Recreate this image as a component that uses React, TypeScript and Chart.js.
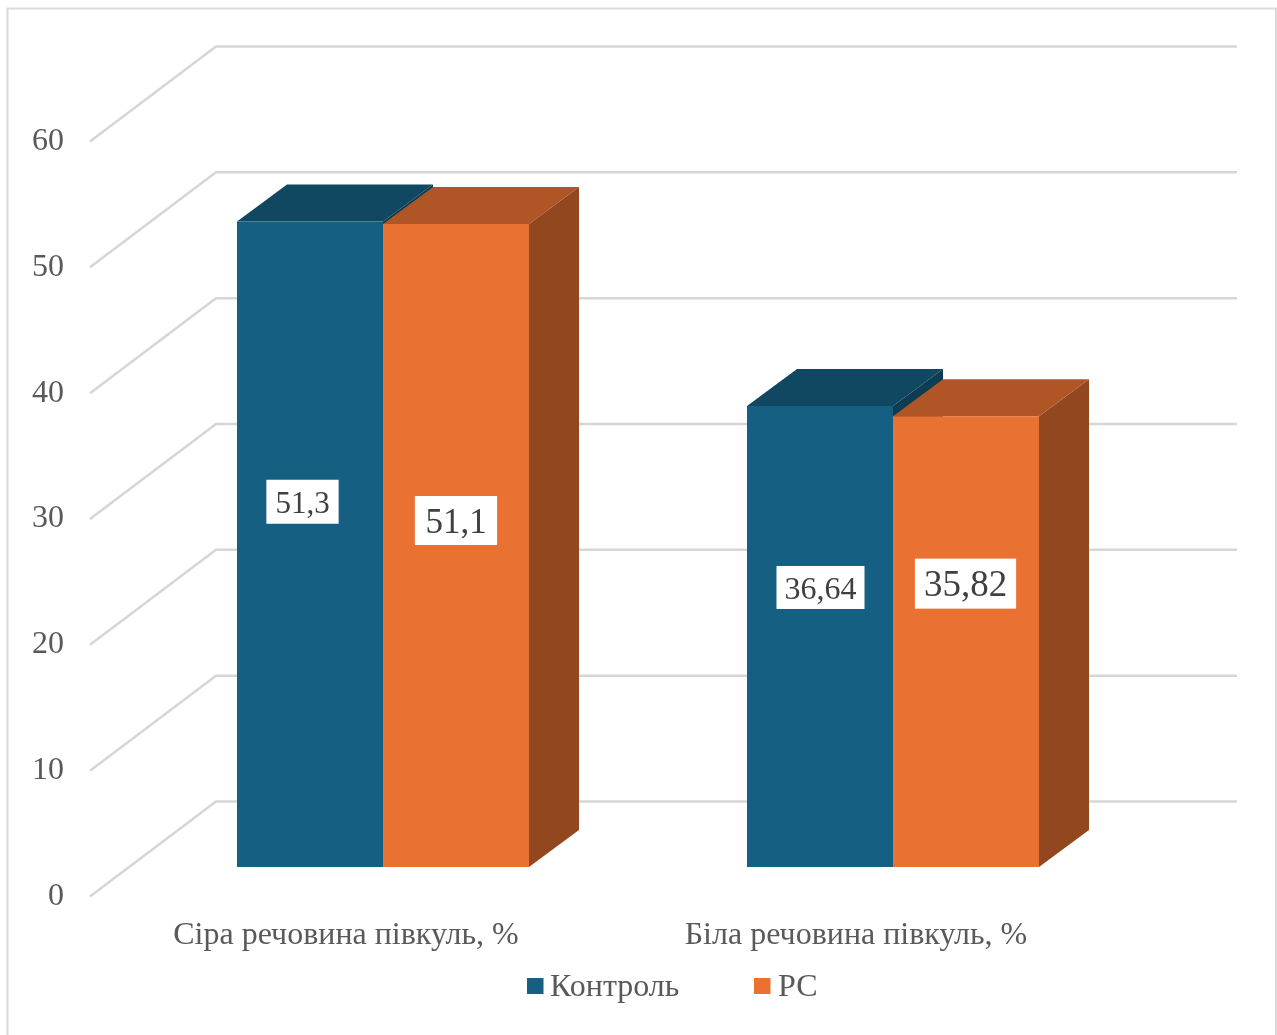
import React, { useEffect, useRef } from "react";
import { Chart, registerables } from "chart.js";

Chart.register(...registerables);

const categories = ["Сіра речовина півкуль, %", "Біла речовина півкуль, %"];
const controlLabel = "Контроль";
const rsLabel = "РС";
const controlValues = [51.3, 36.64];
const rsValues = [51.1, 35.82];

const FONT = '"Liberation Serif", "Times New Roman", serif';
const TEXT = "#595959";
const GRID = "#d6d6d6";

// Pseudo-3D geometry: the tick labels sit on the front plane, the bars in the
// middle of the floor, the gridlines on the back wall.
const BAR_SHIFT = { x: 37, y: -29.5 };
const BAR_DEPTH = { x: 50, y: -37 };
const WALL_SHIFT = { x: 125, y: -95 };

const faceColors = [
  { top: "#104862", side: "#0d3d52" },
  { top: "#af5526", side: "#93471f" },
];

// Label box placement relative to the middle of the bar's front face.
const labelStyles = [
  [
    { size: 31, dx: -7.5, dy: -42.5, padX: 9, boxH: 44 },
    { size: 35, dx: 0, dy: -25, padX: 10.5, boxH: 49 },
  ],
  [
    { size: 32, dx: 0.5, dy: -49, padX: 8, boxH: 43 },
    { size: 37, dx: -0.5, dy: -58, padX: 9, boxH: 50 },
  ],
];

const poly = (ctx: CanvasRenderingContext2D, pts: number[][], fill: string) => {
  ctx.beginPath();
  pts.forEach(([x, y], i) => (i ? ctx.lineTo(x, y) : ctx.moveTo(x, y)));
  ctx.closePath();
  ctx.fillStyle = fill;
  ctx.fill();
};

const pseudo3d = {
  id: "pseudo3d",
  beforeDraw(chart: any) {
    const { ctx, width, height, chartArea, scales } = chart;
    ctx.save();
    ctx.fillStyle = "#ffffff";
    ctx.fillRect(0, 0, width, height);
    ctx.strokeStyle = "#d9d9d9";
    ctx.lineWidth = 2;
    ctx.strokeRect(7.5, 8.5, 1268.5, 1040);

    // Side wall and back wall lines for every tick of the value axis.
    ctx.strokeStyle = GRID;
    ctx.lineWidth = 2.5;
    ctx.lineJoin = "round";
    for (const tick of scales.y.ticks) {
      const y = scales.y.getPixelForValue(tick.value);
      ctx.beginPath();
      ctx.moveTo(chartArea.left - 1, y);
      ctx.lineTo(chartArea.left + WALL_SHIFT.x, y + WALL_SHIFT.y);
      ctx.lineTo(chartArea.right + WALL_SHIFT.x + 1, y + WALL_SHIFT.y);
      ctx.stroke();
    }
    ctx.restore();
  },
  // Moves all bars onto their plane and paints the top and side faces first,
  // so the front faces drawn by the library end up above them.
  beforeDatasetsDraw(chart: any) {
    const { ctx } = chart;
    ctx.save();
    ctx.translate(BAR_SHIFT.x, BAR_SHIFT.y);
    chart.data.datasets.forEach((_: any, di: number) => {
      const colors = faceColors[di];
      chart.getDatasetMeta(di).data.forEach((bar: any) => {
        const half = bar.width / 2;
        const l = bar.x - half;
        const r = bar.x + half;
        const t = bar.y;
        const b = bar.base;
        const { x: dx, y: dy } = BAR_DEPTH;
        poly(ctx, [[r, t], [r + dx, t + dy], [r + dx, b + dy], [r, b]], colors.side);
        poly(ctx, [[l, t], [r, t], [r + dx, t + dy], [l + dx, t + dy]], colors.top);
      });
    });
  },
  afterDatasetsDraw(chart: any) {
    chart.ctx.restore();
  },
  afterDraw(chart: any) {
    const { ctx } = chart;
    ctx.save();
    ctx.textBaseline = "middle";
    ctx.textAlign = "center";

    // Value labels on white boxes.
    chart.data.datasets.forEach((ds: any, di: number) => {
      chart.getDatasetMeta(di).data.forEach((bar: any, i: number) => {
        const st = labelStyles[i][di];
        const text = String(ds.data[i]).replace(".", ",");
        const cx = bar.x + BAR_SHIFT.x + st.dx;
        const cy = (bar.y + bar.base) / 2 + BAR_SHIFT.y + st.dy;
        ctx.font = `${st.size}px ${FONT}`;
        const w = ctx.measureText(text).width + st.padX * 2;
        ctx.fillStyle = "#ffffff";
        ctx.fillRect(cx - w / 2, cy - st.boxH / 2, w, st.boxH);
        ctx.fillStyle = "#404040";
        ctx.fillText(text, cx, cy + 3);
      });
    });

    // Legend row under the category labels.
    ctx.textAlign = "left";
    ctx.font = `32px ${FONT}`;
    const entries = [
      { boxX: 527, textX: 550 },
      { boxX: 754, textX: 778 },
    ];
    chart.data.datasets.forEach((ds: any, di: number) => {
      const e = entries[di];
      ctx.fillStyle = ds.backgroundColor;
      ctx.fillRect(e.boxX, 978, 16.5, 16);
      ctx.fillStyle = TEXT;
      ctx.fillText(ds.label, e.textX, 988);
    });
    ctx.restore();
  },
};

export default function App() {
  const ref = useRef<HTMLCanvasElement>(null);
  useEffect(() => {
    const chart = new Chart(ref.current!, {
      type: "bar",
      data: {
        labels: categories,
        datasets: [
          { label: controlLabel, data: controlValues, backgroundColor: "#156082", clip: false },
          { label: rsLabel, data: rsValues, backgroundColor: "#e97132", clip: false },
        ],
      },
      options: {
        responsive: false,
        animation: false,
        categoryPercentage: 292 / 510,
        barPercentage: 1,
        layout: { padding: { left: 0, top: 141.5, right: 166, bottom: 0 } },
        plugins: { legend: { display: false }, tooltip: { enabled: false } },
        scales: {
          x: {
            grid: { display: false, drawTicks: false },
            border: { display: false },
            afterFit: (s: any) => {
              s.height = 138.5;
            },
            ticks: {
              padding: 20,
              maxRotation: 0,
              autoSkip: false,
              color: TEXT,
              font: { family: FONT, size: 32 },
            },
          },
          y: {
            min: 0,
            max: 60,
            grid: { display: false, drawTicks: false },
            border: { display: false },
            afterFit: (s: any) => {
              s.width = 91;
            },
            ticks: {
              stepSize: 10,
              padding: 27,
              color: TEXT,
              font: { family: FONT, size: 32 },
            },
          },
        },
      },
      plugins: [pseudo3d],
    } as any);
    return () => chart.destroy();
  }, []);
  return (
    <canvas
      ref={ref}
      width={1277}
      height={1035}
      style={{ position: "absolute", left: 0, top: 0, display: "block" }}
    />
  );
}
